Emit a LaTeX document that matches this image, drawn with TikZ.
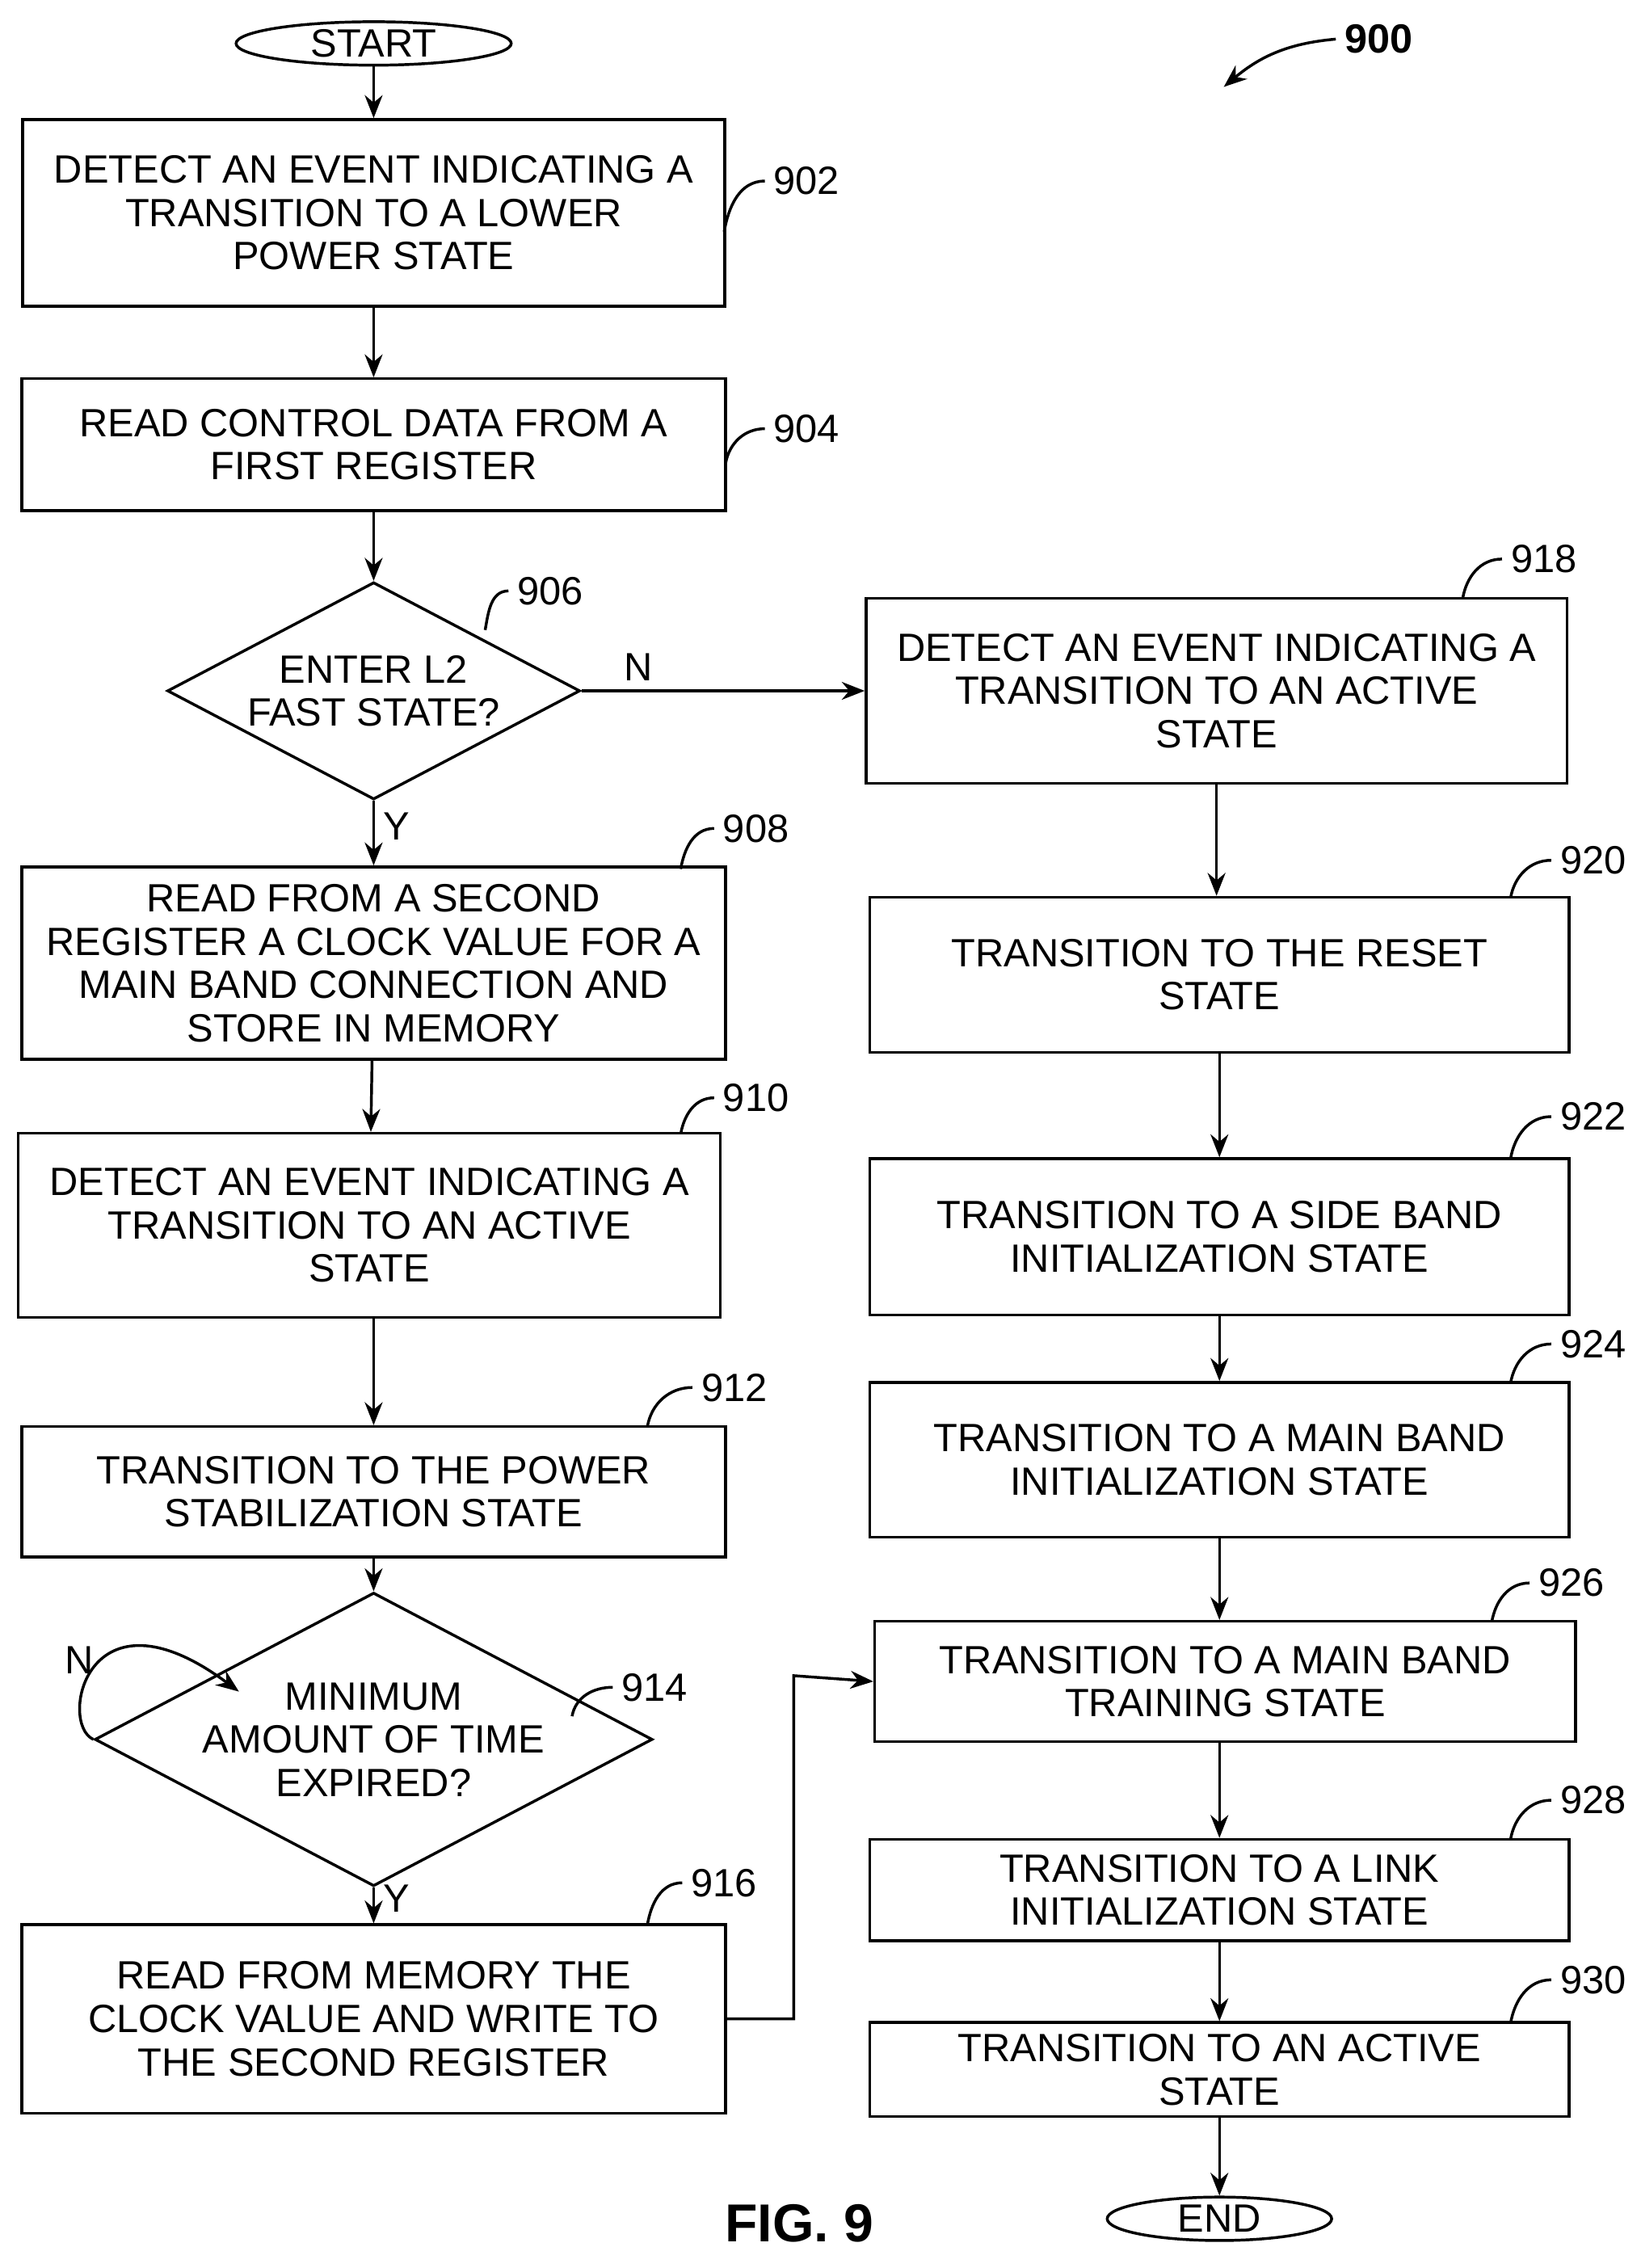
\documentclass[tikz,border=0pt]{standalone}
\usepackage{fontspec}
\setmainfont{Liberation Sans}
\usetikzlibrary{shapes.geometric,arrows.meta}
\begin{document}
\begin{tikzpicture}
  [
    x=0.02cm, y=-0.02cm,
    font=\fontsize{15.5}{17}\selectfont,
    block/.style =
      {draw, rectangle, align=center, line width=1.1pt, inner sep=0pt},
    term/.style =
      {draw, ellipse, line width=1.1pt, inner sep=0pt},
    cond/.style =
      {draw, diamond, align=center, line width=1.1pt, inner sep=0pt, aspect=1.9},
    flow/.style = {-{Stealth[length=9pt,width=7pt]}, line width=1.1pt},
    lead/.style = {line width=1.1pt}
  ]
  \useasboundingbox (0,0) rectangle (1133,1566);

  % left column
  \node [term, minimum width=190*0.02cm, minimum height=30*0.02cm] at (258,30) (start) {START};
  \node [block, minimum width=485*0.02cm, minimum height=129*0.02cm] at (258,147) (b902)
    {DETECT AN EVENT INDICATING A\\TRANSITION TO A LOWER\\POWER STATE};
  \node [block, minimum width=486*0.02cm, minimum height=91*0.02cm] at (258,307) (b904)
    {READ CONTROL DATA FROM A\\FIRST REGISTER};
  \node [cond, minimum width=285*0.02cm, minimum height=150*0.02cm] at (258,477) (d906)
    {ENTER L2\\FAST STATE?};
  \node [block, minimum width=486*0.02cm, minimum height=133*0.02cm] at (258,665) (b908)
    {READ FROM A SECOND\\REGISTER A CLOCK VALUE FOR A\\MAIN BAND CONNECTION AND\\STORE IN MEMORY};
  \node [block, minimum width=485*0.02cm, minimum height=127*0.02cm] at (255,846) (b910)
    {DETECT AN EVENT INDICATING A\\TRANSITION TO AN ACTIVE\\STATE};
  \node [block, minimum width=486*0.02cm, minimum height=90*0.02cm] at (258,1030) (b912)
    {TRANSITION TO THE POWER\\STABILIZATION STATE};
  \node [cond, minimum width=313*0.02cm, minimum height=167*0.02cm] at (258,1201) (d914)
    {MINIMUM\\AMOUNT OF TIME\\EXPIRED?};
  \node [block, minimum width=486*0.02cm, minimum height=130*0.02cm] at (258,1394) (b916)
    {READ FROM MEMORY THE\\CLOCK VALUE AND WRITE TO\\THE SECOND REGISTER};

  % right column
  \node [block, minimum width=484*0.02cm, minimum height=128*0.02cm] at (840,477) (b918)
    {DETECT AN EVENT INDICATING A\\TRANSITION TO AN ACTIVE\\STATE};
  \node [block, minimum width=483*0.02cm, minimum height=107*0.02cm] at (842,673) (b920)
    {TRANSITION TO THE RESET\\STATE};
  \node [block, minimum width=483*0.02cm, minimum height=108*0.02cm] at (842,854) (b922)
    {TRANSITION TO A SIDE BAND\\INITIALIZATION STATE};
  \node [block, minimum width=483*0.02cm, minimum height=107*0.02cm] at (842,1008) (b924)
    {TRANSITION TO A MAIN BAND\\INITIALIZATION STATE};
  \node [block, minimum width=484*0.02cm, minimum height=83*0.02cm] at (846,1161) (b926)
    {TRANSITION TO A MAIN BAND\\TRAINING STATE};
  \node [block, minimum width=483*0.02cm, minimum height=70*0.02cm] at (842,1305) (b928)
    {TRANSITION TO A LINK\\INITIALIZATION STATE};
  \node [block, minimum width=483*0.02cm, minimum height=65*0.02cm] at (842,1429) (b930)
    {TRANSITION TO AN ACTIVE\\STATE};
  \node [term, minimum width=155*0.02cm, minimum height=30*0.02cm] at (842,1532) (end) {END};

  \node [font=\fontsize{21}{24}\bfseries] at (552,1535) (fig) {FIG. 9};
  \node [font=\fontsize{16}{18}\bfseries] at (952,27) (n900) {900};
  \coordinate (a900) at (845,60);
  \draw [flow] (n900.west) to[out=185,in=40] (a900);

  % connectors
  \draw [flow] (start) -- (b902);
  \draw [flow] (b902) -- (b904);
  \draw [flow] (b904) -- (d906);
  \draw [flow] (d906) -- node[right, pos=0.4] {Y} (b908);
  \draw [flow] (d906.east) -- node[above, pos=0.2] {N} (b918.west);
  \draw [flow] (b908) -- (b910);
  \draw [flow] (b910.south -| b912.north) -- (b912);
  \draw [flow] (b912) -- (d914);
  \draw [flow] (d914) -- node[right, pos=0.3] {Y} (b916);
  \coordinate (loop) at (165,1168);
  \draw [flow] (d914.west) .. controls (40,1190) and (60,1090) .. node[left, pos=0.55] {N} (loop);
  \draw [flow] (b916.east) -| (548,1157) -- (b926.west);
  \draw [flow] (b918) -- (b920.north -| b918.south);
  \draw [flow] (b920) -- (b922);
  \draw [flow] (b922) -- (b924);
  \draw [flow] (b924) -- (b924.south |- b926.north);
  \draw [flow] (b926.south -| b928.north) -- (b928);
  \draw [flow] (b928) -- (b930);
  \draw [flow] (b930) -- (end);

  % reference numerals
  \foreach \px/\py/\lx/\ly/\num in {
      500/160/557/125/902, 501/320/557/296/904, 335/435/380/408/906,
      470/600/522/572/908, 470/783/522/758/910, 447/985/507/958/912,
      395/1185/452/1165/914, 447/1329/500/1300/916, 1010/413/1066/386/918,
      1043/620/1100/594/920, 1043/800/1100/771/922, 1043/955/1100/928/924,
      1030/1120/1085/1093/926, 1043/1270/1100/1243/928, 1043/1397/1100/1367/930}
  {
    \node at (\lx,\ly) (r\num) {\num};
    \draw [lead] (\px,\py) to[out=80,in=180] (r\num.west);
  }
\end{tikzpicture}
\end{document}
